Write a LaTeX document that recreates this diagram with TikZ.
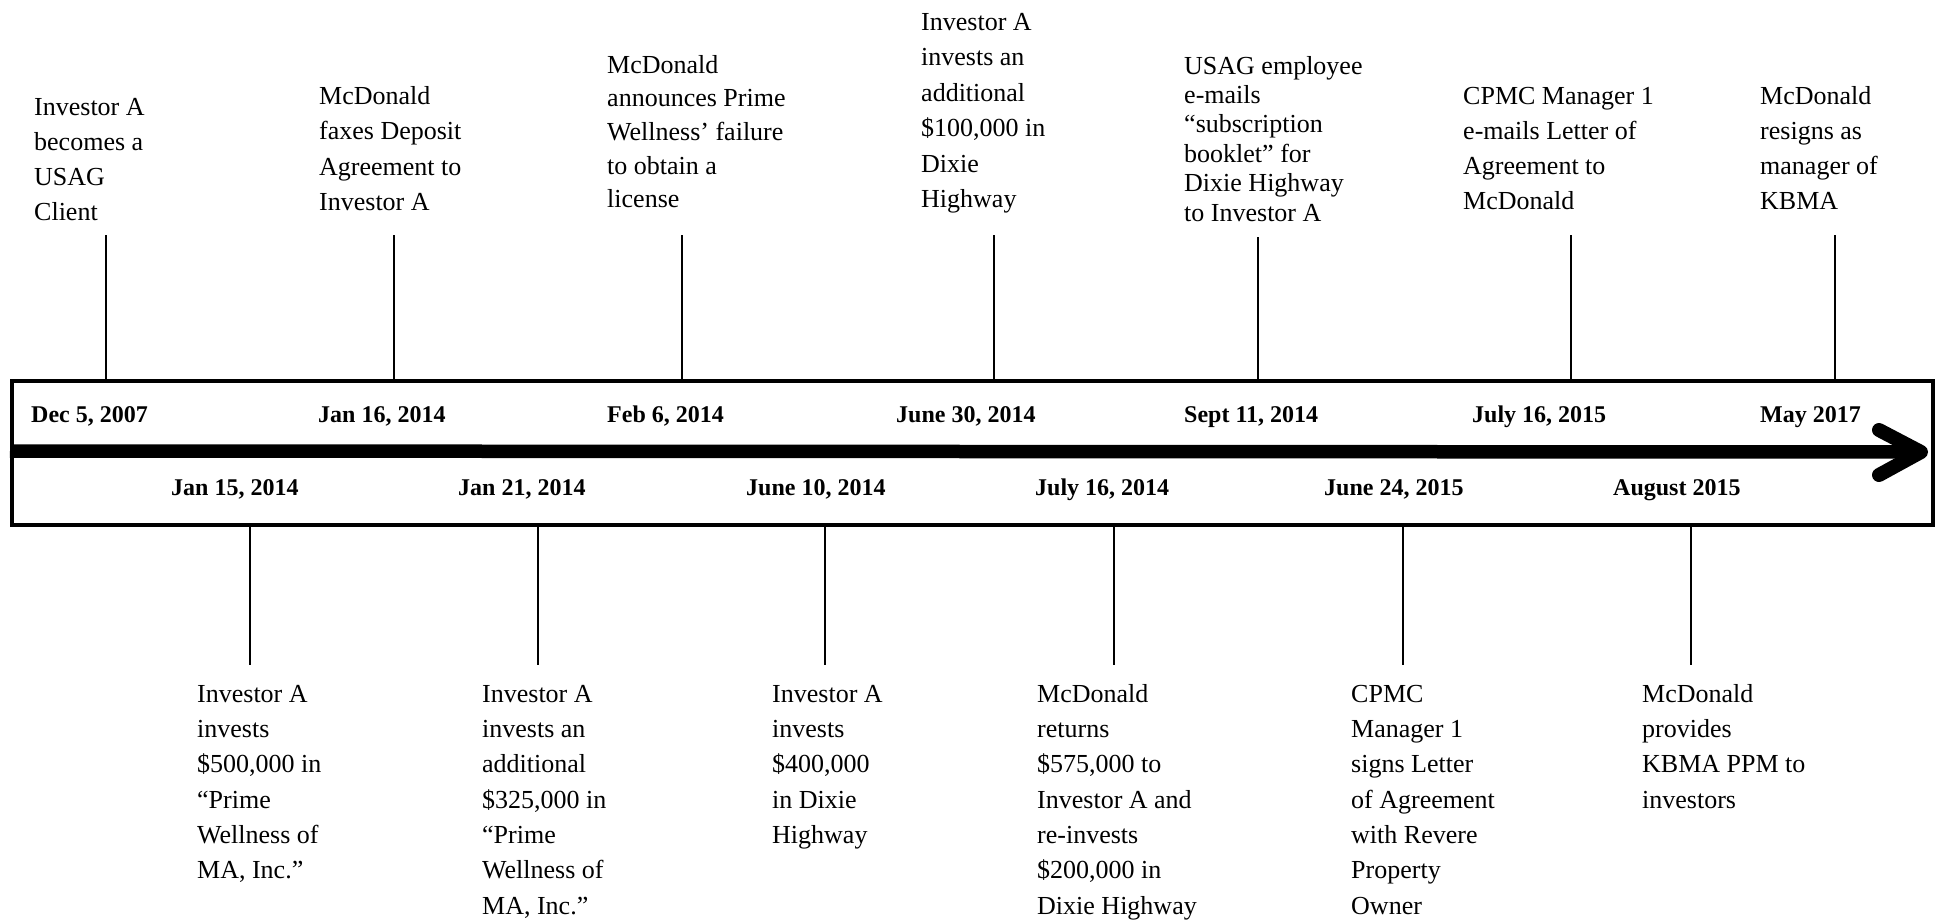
\documentclass[tikz,border=0pt]{standalone}
\usepackage{fontspec}
\setmainfont{Liberation Serif}
\begin{document}
\begin{tikzpicture}[x=1pt,y=1pt,
  evt/.style={anchor=north west, inner sep=0pt, align=left, font=\fontsize{26}{#1}\selectfont},
  datelbl/.style={anchor=base west, inner sep=0pt, font=\fontsize{24}{28}\selectfont\bfseries},
  uptick/.style={line width=2.8pt},
  lotick/.style={line width=1.8pt},
  frame/.style={draw, line width=3.5pt, inner sep=0pt, anchor=north west},
  shaft/.style={line width=13.5pt},
  chev/.style={line width=14pt, line cap=round, line join=round}]
\useasboundingbox (0,0) rectangle (1936,-923);

% timeline box
\node[frame, minimum width=1921pt, minimum height=144pt] (box) at (10,-379) {};

% arrow
\coordinate (sl) at (10,-451);
\coordinate (sr) at (1921,-452);
\coordinate (cu) at (1879,-430);
\coordinate (cd) at (1879,-475);
\draw[shaft] (sl) -- (sr);
\draw[chev] (cu) -- (sr) -- (cd);

% upper events
\node[evt=35] (u1) at (34,-90.5) {\strut Investor A\\becomes a\\USAG\\Client};
\node[evt=35.5] (u2) at (319,-79) {\strut McDonald\\faxes Deposit\\Agreement to\\Investor A};
\node[evt=33.7] (u3) at (607,-49.4) {\strut McDonald\\announces Prime\\Wellness’ failure\\to obtain a\\license};
\node[evt=35.5] (u4) at (921,-5) {\strut Investor A\\invests an\\additional\\\$100,000 in\\Dixie\\Highway};
\node[evt=29.4] (u5) at (1184,-53.4) {\strut USAG employee\\e-mails\\“subscription\\booklet” for\\Dixie Highway\\to Investor A};
\node[evt=35] (u6) at (1463,-79.5) {\strut CPMC Manager 1\\e-mails Letter of\\Agreement to\\McDonald};
\node[evt=35] (u7) at (1760,-79.5) {\strut McDonald\\resigns as\\manager of\\KBMA};

% upper tick tops
\coordinate (t1) at (106,-235);
\coordinate (t2) at (394,-235);
\coordinate (t3) at (682,-235);
\coordinate (t4) at (994,-235);
\coordinate (t5) at (1258,-237);
\coordinate (t6) at (1571,-235);
\coordinate (t7) at (1835,-235);
\foreach \t in {t1,t2,t3,t4,t5,t6,t7}
  \draw[uptick] (\t) -- (\t |- box.north);

% upper dates
\node[datelbl] (d1) at (31,-422) {Dec 5, 2007};
\node[datelbl] (d2) at (318,-422) {Jan 16, 2014};
\node[datelbl] (d3) at (607,-422) {Feb 6, 2014};
\node[datelbl] (d4) at (896,-422) {June 30, 2014};
\node[datelbl] (d5) at (1184,-422) {Sept 11, 2014};
\node[datelbl] (d6) at (1472,-422) {July 16, 2015};
\node[datelbl] (d7) at (1760,-422) {May 2017};

% lower dates
\node[datelbl] (l1) at (171,-495) {Jan 15, 2014};
\node[datelbl] (l2) at (458,-495) {Jan 21, 2014};
\node[datelbl] (l3) at (746,-495) {June 10, 2014};
\node[datelbl] (l4) at (1035,-495) {July 16, 2014};
\node[datelbl] (l5) at (1324,-495) {June 24, 2015};
\node[datelbl] (l6) at (1613,-495) {August 2015};

% lower tick ends
\coordinate (b1) at (250,-665);
\coordinate (b2) at (538,-665);
\coordinate (b3) at (825,-665);
\coordinate (b4) at (1114,-665);
\coordinate (b5) at (1403,-665);
\coordinate (b6) at (1691,-665);
\foreach \b in {b1,b2,b3,b4,b5,b6}
  \draw[lotick] (\b |- box.south) -- (\b);

% lower events
\node[evt=35.3] (e1) at (197,-677.3) {\strut Investor A\\invests\\\$500,000 in\\“Prime\\Wellness of\\MA, Inc.”};
\node[evt=35.3] (e2) at (482,-677.3) {\strut Investor A\\invests an\\additional\\\$325,000 in\\“Prime\\Wellness of\\MA, Inc.”};
\node[evt=35.3] (e3) at (772,-677.3) {\strut Investor A\\invests\\\$400,000\\in Dixie\\Highway};
\node[evt=35.3] (e4) at (1037,-677.3) {\strut McDonald\\returns\\\$575,000 to\\Investor A and\\re-invests\\\$200,000 in\\Dixie Highway};
\node[evt=35.3] (e5) at (1351,-677.3) {\strut CPMC\\Manager 1\\signs Letter\\of Agreement\\with Revere\\Property\\Owner};
\node[evt=35.3] (e6) at (1642,-677.3) {\strut McDonald\\provides\\KBMA PPM to\\investors};
\end{tikzpicture}
\end{document}
